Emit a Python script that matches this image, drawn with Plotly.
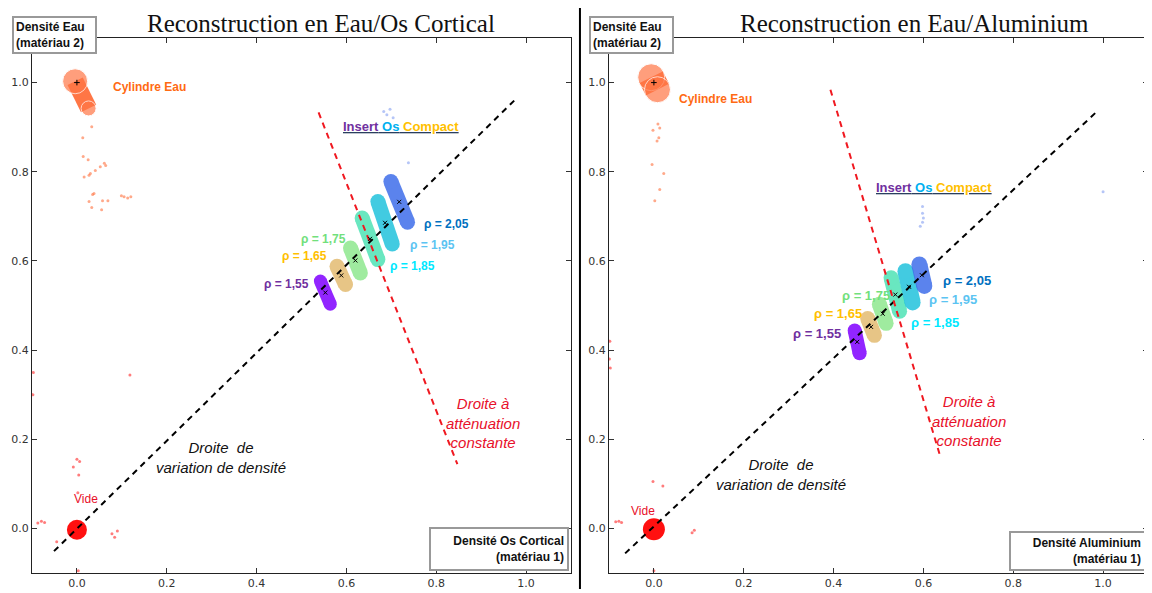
import plotly.graph_objects as go

# ---------------- data ----------------
tick_vals = [0.0, 0.2, 0.4, 0.6, 0.8, 1.0]
tick_text = ["0.0", "0.2", "0.4", "0.6", "0.8", "1.0"]

densities = ["1,55", "1,65", "1,75", "1,85", "1,95", "2,05"]
blob_colors = ["#7F00FF", "#E3BC72", "#8FE88F", "#4FE3B6", "#22C3DC", "#3F6EEA"]
label_colors = ["#7030A0", "#FFC000", "#72E07C", "#00E8FF", "#5CC4F2", "#0070C0"]

# Panel 1: Eau / Os Cortical  (insert clusters: top and bottom ends of each elongated cloud)
os_top_x = [0.542, 0.579, 0.609, 0.635, 0.670, 0.699]
os_top_y = [0.555, 0.588, 0.629, 0.696, 0.733, 0.778]
os_bot_x = [0.564, 0.598, 0.631, 0.670, 0.702, 0.736]
os_bot_y = [0.503, 0.547, 0.573, 0.603, 0.638, 0.687]
os_width = [13, 15, 15, 15, 15, 15]
os_label_x = [0.522, 0.562, 0.604, 0.693, 0.738, 0.769]
os_label_y = [0.549, 0.611, 0.649, 0.589, 0.636, 0.682]
os_label_side = ["right", "right", "right", "left", "left", "left"]

# water cylinder cloud (top, bottom) and void cloud
os_water_x = [-0.004, 0.026]
os_water_y = [1.003, 0.942]
os_void_x = [0.0]
os_void_y = [-0.003]
os_water_out_x = [0.033, 0.013, 0.014, 0.025, 0.061, 0.064, 0.052, 0.041, 0.030, 0.027, 0.016,
                  0.038, 0.035, 0.099, 0.105, 0.113, 0.120, 0.027, 0.057, 0.069, 0.033, 0.055]
os_water_out_y = [0.901, 0.876, 0.834, 0.827, 0.819, 0.814, 0.811, 0.803, 0.796, 0.792, 0.788,
                  0.751, 0.749, 0.746, 0.744, 0.741, 0.744, 0.733, 0.735, 0.735, 0.720, 0.715]
os_void_out_x = [-0.087, -0.079, -0.072, 0.078, 0.084, 0.090, 0.0, 0.006, -0.008, 0.004, 0.002,
                 -0.097, -0.098, 0.118, 0.003, -0.045]
os_void_out_y = [0.012, 0.016, 0.013, -0.012, -0.020, -0.006, 0.155, 0.150, 0.138, 0.120, 0.080,
                 0.35, 0.30, 0.344, -0.095, -0.03]
os_blue_out_x = [0.683, 0.690, 0.697, 0.704, 0.738]
os_blue_out_y = [0.935, 0.928, 0.940, 0.921, 0.820]
os_dens_line_x = [-0.051, 0.978]
os_dens_line_y = [-0.051, 0.964]
os_att_line_x = [0.538, 0.847]
os_att_line_y = [0.933, 0.144]

# Panel 2: Eau / Aluminium
al_top_x = [0.447, 0.476, 0.502, 0.528, 0.560, 0.591]
al_top_y = [0.444, 0.471, 0.503, 0.562, 0.577, 0.592]
al_bot_x = [0.458, 0.491, 0.517, 0.547, 0.576, 0.602]
al_bot_y = [0.393, 0.433, 0.460, 0.487, 0.507, 0.544]
al_width = [14, 15, 15, 15, 16, 16]
al_label_x = [0.420, 0.467, 0.531, 0.569, 0.609, 0.640]
al_label_y = [0.438, 0.482, 0.522, 0.462, 0.513, 0.556]
al_label_side = ["right", "right", "right", "left", "left", "left"]

al_water_x = [-0.006, 0.008]
al_water_y = [1.012, 0.984]
al_void_x = [0.0]
al_void_y = [-0.002]
al_water_out_x = [0.009, -0.002, 0.013, 0.011, 0.007, -0.004, 0.022, 0.013, 0.002]
al_water_out_y = [0.907, 0.893, 0.898, 0.876, 0.869, 0.816, 0.796, 0.760, 0.735]
al_void_out_x = [-0.085, -0.078, -0.072, 0.085, 0.090, -0.002, 0.020, 0.0, -0.098, -0.099, -0.097]
al_void_out_y = [0.015, 0.016, 0.013, -0.010, -0.004, 0.105, 0.095, -0.095, 0.42, 0.38, 0.36]
al_blue_out_x = [0.598, 0.598, 0.600, 0.598, 0.593, 1.000]
al_blue_out_y = [0.722, 0.707, 0.696, 0.687, 0.678, 0.755]
al_dens_line_x = [-0.064, 0.984]
al_dens_line_y = [-0.056, 0.933]
al_att_line_x = [0.393, 0.638]
al_att_line_y = [0.984, 0.160]

ORANGE = "#FF6F3C"
RED = "#FF1010"
TXT_RED = "#E8102A"

fig = go.Figure()
annotations = []


def add_panel(xa, ya, top_x, top_y, bot_x, bot_y, widths, lab_x, lab_y, lab_side,
              water_x, water_y, water_sizes, void_x, void_y, void_size,
              w_out_x, w_out_y, v_out_x, v_out_y, b_out_x, b_out_y,
              dl_x, dl_y, al_x, al_y, rho_size):
    ax = dict(xaxis=xa, yaxis=ya, showlegend=False, hoverinfo="skip")
    # outlier points
    fig.add_trace(go.Scatter(x=w_out_x, y=w_out_y, mode="markers",
                             marker=dict(color=ORANGE, size=3, opacity=0.6), **ax))
    fig.add_trace(go.Scatter(x=v_out_x, y=v_out_y, mode="markers",
                             marker=dict(color=RED, size=3, opacity=0.55), **ax))
    fig.add_trace(go.Scatter(x=b_out_x, y=b_out_y, mode="markers",
                             marker=dict(color="#6C8CF0", size=3, opacity=0.5), **ax))
    # water cloud
    fig.add_trace(go.Scatter(x=water_x, y=water_y, mode="lines+markers",
                             line=dict(color=ORANGE, width=water_sizes[2]),
                             marker=dict(color=ORANGE, size=water_sizes[:2]), opacity=0.95, **ax))
    fig.add_trace(go.Scatter(x=[0.0], y=[1.0], mode="markers",
                             marker=dict(color="black", size=4, symbol="cross-thin",
                                         line=dict(width=1, color="black")), **ax))
    # void cloud
    fig.add_trace(go.Scatter(x=void_x, y=void_y, mode="markers",
                             marker=dict(color=RED, size=void_size), **ax))
    # insert clouds
    for i in range(len(top_x)):
        fig.add_trace(go.Scatter(x=[top_x[i], bot_x[i]], y=[top_y[i], bot_y[i]],
                                 mode="lines+markers",
                                 line=dict(color=blob_colors[i], width=widths[i]),
                                 marker=dict(color=blob_colors[i], size=widths[i]),
                                 opacity=0.85, **ax))
    # dashed lines
    fig.add_trace(go.Scatter(x=dl_x, y=dl_y, mode="lines",
                             line=dict(color="black", width=2, dash="6px,5px"), **ax))
    fig.add_trace(go.Scatter(x=al_x, y=al_y, mode="lines",
                             line=dict(color="#F01820", width=2, dash="6px,5px"), **ax))
    # cluster centre marks
    cx = [(a + b) / 2 for a, b in zip(top_x, bot_x)]
    cy = [(a + b) / 2 for a, b in zip(top_y, bot_y)]
    fig.add_trace(go.Scatter(x=cx, y=cy, mode="markers",
                             marker=dict(color="black", size=4, symbol="x-thin",
                                         line=dict(width=1, color="black")), **ax))
    # rho labels
    for i in range(len(densities)):
        annotations.append(dict(
            xref=xa, yref=ya, x=lab_x[i], y=lab_y[i], showarrow=False,
            xanchor="left" if lab_side[i] == "left" else "right",
            text="<b>\u03c1 = " + densities[i] + "</b>",
            font=dict(family="Liberation Sans, Arial", size=rho_size, color=label_colors[i])))


add_panel("x", "y", os_top_x, os_top_y, os_bot_x, os_bot_y, os_width, os_label_x, os_label_y,
          os_label_side, os_water_x, os_water_y, [25, 15, 17], os_void_x, os_void_y, 20,
          os_water_out_x, os_water_out_y, os_void_out_x, os_void_out_y, os_blue_out_x, os_blue_out_y,
          os_dens_line_x, os_dens_line_y, os_att_line_x, os_att_line_y, 12)
add_panel("x2", "y2", al_top_x, al_top_y, al_bot_x, al_bot_y, al_width, al_label_x, al_label_y,
          al_label_side, al_water_x, al_water_y, [27, 26, 26], al_void_x, al_void_y, 22,
          al_water_out_x, al_water_out_y, al_void_out_x, al_void_out_y, al_blue_out_x, al_blue_out_y,
          al_dens_line_x, al_dens_line_y, al_att_line_x, al_att_line_y, 13)

insert_txt = ("<b><u><span style='color:#7030A0'>Insert</span> "
              "<span style='color:#00B0F0'>Os</span> "
              "<span style='color:#FFC000'>Compact</span></u></b>")
SANS = "Liberation Sans, Arial"

panel_text = [
    ("x", "y", "Reconstruction en Eau/Os Cortical", 0.537, (0.076, 0.991), (0.722, 0.902),
     (0.904, 0.236), (0.32, 0.16), (0.02, 0.067), "Densité Os Cortical<br>(matériau 1)", 130, 34),
    ("x2", "y2", "Reconstruction en Eau/Aluminium", 0.567, (0.051, 0.964), (0.624, 0.764),
     (0.702, 0.242), (0.282, 0.122), (-0.024, 0.038), "Densité Aluminium<br>(matériau 1)", 127, 30),
]
for (xa, ya, title, tx, cyl, ins, att, dens, vide, xlab, xw, xh) in panel_text:
    xd = xa + " domain"
    yd = ya + " domain"
    annotations += [
        dict(xref=xd, yref=yd, x=tx, y=1.027, xanchor="center", yanchor="middle", text=title,
             showarrow=False,
             font=dict(family="Liberation Serif, Times New Roman", size=25, color="#111")),
        dict(xref=xa, yref=ya, x=cyl[0], y=cyl[1], xanchor="left", showarrow=False,
             text="<b>Cylindre Eau</b>", font=dict(family=SANS, size=12, color="#FF6A13")),
        dict(xref=xa, yref=ya, x=ins[0], y=ins[1], showarrow=False, text=insert_txt,
             font=dict(family=SANS, size=13)),
        dict(xref=xa, yref=ya, x=att[0], y=att[1], showarrow=False,
             text="<i>Droite à<br>atténuation<br>constante</i>",
             font=dict(family=SANS, size=15, color=TXT_RED)),
        dict(xref=xa, yref=ya, x=dens[0], y=dens[1], showarrow=False,
             text="<i>Droite  de<br>variation de densité</i>",
             font=dict(family=SANS, size=15, color="#111")),
        dict(xref=xa, yref=ya, x=vide[0], y=vide[1], showarrow=False, text="Vide",
             font=dict(family=SANS, size=12, color=TXT_RED)),
        dict(xref=xd, yref=yd, x=-0.037, y=1.041, xanchor="left", yanchor="top", showarrow=False,
             text="<b>Densité Eau<br>(matériau 2)</b>", align="left", width=77, height=30,
             bgcolor="white", bordercolor="#999", borderwidth=2, borderpad=2,
             font=dict(family=SANS, size=12, color="#111")),
        dict(xref=xd, yref=yd, x=0.997, y=0.003, xanchor="right", yanchor="bottom", showarrow=False,
             text="<b>" + xlab + "</b>", align="right", width=xw, height=xh,
             bgcolor="white", bordercolor="#999", borderwidth=2, borderpad=3,
             font=dict(family=SANS, size=12, color="#111")),
    ]

axis_common = dict(range=[-0.1, 1.1], tickvals=tick_vals, ticktext=tick_text, ticks="inside",
                   ticklen=5, tickcolor="#333", mirror="allticks", showline=True, linecolor="#222",
                   linewidth=1, showgrid=False, zeroline=False,
                   tickfont=dict(family="DejaVu Sans", size=11, color="#333"))

# the page body adds an 8 px offset, so the figure is 8 px smaller in each direction
fig.update_layout(
    width=1144, height=585,
    margin=dict(l=23, r=3, t=30, b=15),
    paper_bgcolor="white", plot_bgcolor="white",
    xaxis=dict(domain=[0, 0.483], anchor="y", **axis_common),
    yaxis=dict(domain=[0, 1], anchor="x", **axis_common),
    xaxis2=dict(domain=[0.517, 1], anchor="y2", **axis_common),
    yaxis2=dict(domain=[0, 1], anchor="x2", **axis_common),
    annotations=annotations,
    shapes=[dict(type="line", xref="paper", yref="paper", x0=0.491, x1=0.491, y0=-0.03, y1=1.06,
                 line=dict(color="black", width=2))],
)

fig.write_html("out.html")
